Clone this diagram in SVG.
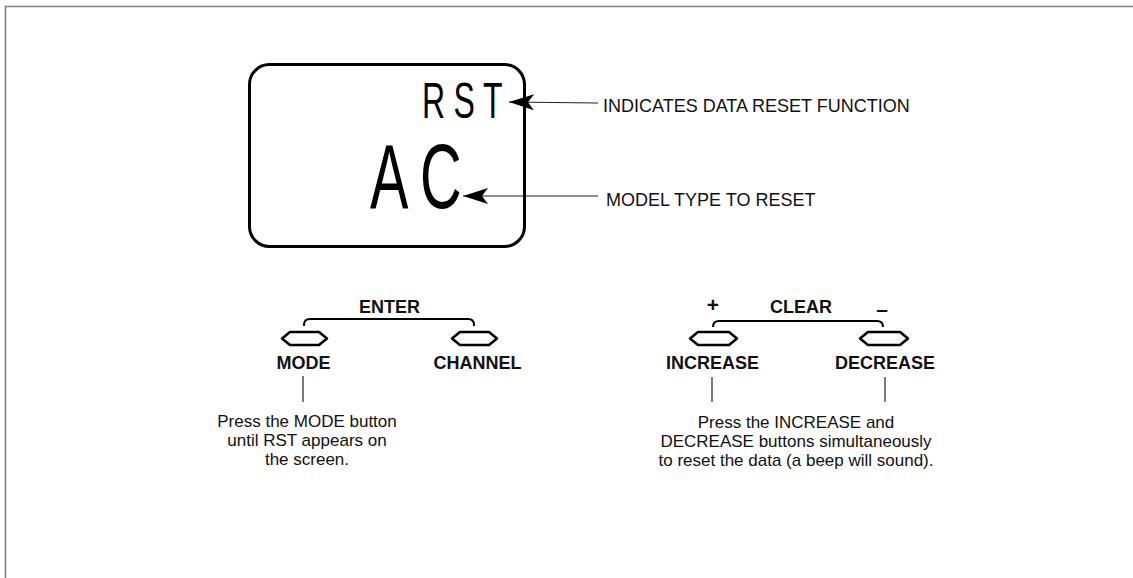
<svg xmlns="http://www.w3.org/2000/svg" width="1133" height="578" viewBox="0 0 1133 578">
  <style>
    .lbl { font-family: "Liberation Sans", Arial, sans-serif; font-size: 18px; fill: #111; }
    .btn { font-family: "Liberation Sans", Arial, sans-serif; font-size: 18px; font-weight: bold; fill: #111; text-anchor: middle; }
    .sign { font-family: "Liberation Sans", Arial, sans-serif; font-size: 21px; font-weight: bold; fill: #111; text-anchor: middle; }
    .body { font-family: "Liberation Sans", Arial, sans-serif; font-size: 17px; fill: #111; text-anchor: middle; }
    .disp { font-family: "Liberation Sans", Arial, sans-serif; fill: #000; }
    .key { fill: #fff; stroke: #000; stroke-width: 2.6; stroke-linejoin: round; }
    .brk { fill: none; stroke: #000; stroke-width: 2; }
    .lead { fill: none; stroke: #222; stroke-width: 1.2; }
  </style>
  <defs>
    <marker id="arr" markerUnits="userSpaceOnUse" markerWidth="30" markerHeight="20" refX="25" refY="8" orient="auto" overflow="visible">
      <path d="M25,8 L0,0 L6,8 L0,16 Z" fill="#000"/>
    </marker>
  </defs>
  <rect width="1133" height="578" fill="#fff"/>
  <path d="M5.5,578 L5.5,6.5 L1133,6.5" fill="none" stroke="#808080" stroke-width="1.6"/>

  <g id="display">
    <rect x="249.5" y="64.5" width="275" height="182" rx="20" ry="20" fill="#fff" stroke="#000" stroke-width="3"/>
    <text class="disp" font-size="50" letter-spacing="13" transform="translate(422,118) scale(0.64,1)">RST</text>
    <text class="disp" font-size="90" letter-spacing="18" transform="translate(370,208) scale(0.64,1)">AC</text>
  </g>

  <g id="label-rst">
    <text class="lbl" x="603" y="112">INDICATES DATA RESET FUNCTION</text>
  </g>
  <g id="label-ac">
    <text class="lbl" x="606" y="206">MODEL TYPE TO RESET</text>
  </g>

  <g id="enter-group">
    <text class="btn" x="389.5" y="313">ENTER</text>
    <path class="brk" d="M304,326 L304,325 Q304,319 310,319 L468,319 Q474,319 474,325 L474,326"/>
  </g>
  <g id="mode-button">
    <path class="key" d="M282,338.5 L290,332 L319,332 L327,338.5 L319,345 L290,345 Z"/>
    <text class="btn" x="303.5" y="369">MODE</text>
  </g>
  <g id="channel-button">
    <path class="key" d="M452,338.5 L460,332 L489,332 L497,338.5 L489,345 L460,345 Z"/>
    <text class="btn" x="477.5" y="369">CHANNEL</text>
  </g>
  <g id="mode-note">
    <text class="body" x="307" y="427">Press the MODE button</text>
    <text class="body" x="307" y="446">until RST appears on</text>
    <text class="body" x="307" y="465">the screen.</text>
  </g>

  <g id="clear-group">
    <text class="sign" x="713" y="312">+</text>
    <text class="btn" x="801" y="313">CLEAR</text>
    <text class="sign" x="882" y="316">–</text>
    <path class="brk" d="M713,327 Q713,321 719,321 L877,321 Q883,321 883,327"/>
  </g>
  <g id="increase-button">
    <path class="key" d="M690,338.5 L698,332 L729,332 L737,338.5 L729,345 L698,345 Z"/>
    <text class="btn" x="712.5" y="369">INCREASE</text>
  </g>
  <g id="decrease-button">
    <path class="key" d="M860,338.5 L868,332 L900,332 L908,338.5 L900,345 L868,345 Z"/>
    <text class="btn" x="885" y="369">DECREASE</text>
  </g>
  <g id="clear-note">
    <text class="body" x="796" y="428">Press the INCREASE and</text>
    <text class="body" x="796" y="447">DECREASE buttons simultaneously</text>
    <text class="body" x="796" y="466">to reset the data (a beep will sound).</text>
  </g>

  <g id="connectors">
    <line class="lead" x1="598" y1="103" x2="509" y2="102" marker-end="url(#arr)"/>
    <line class="lead" x1="598" y1="196" x2="463" y2="196" marker-end="url(#arr)"/>
    <line class="lead" x1="303" y1="376" x2="303" y2="402"/>
    <line class="lead" x1="712" y1="377" x2="712" y2="402"/>
    <line class="lead" x1="885" y1="377" x2="885" y2="402"/>
  </g>
</svg>
